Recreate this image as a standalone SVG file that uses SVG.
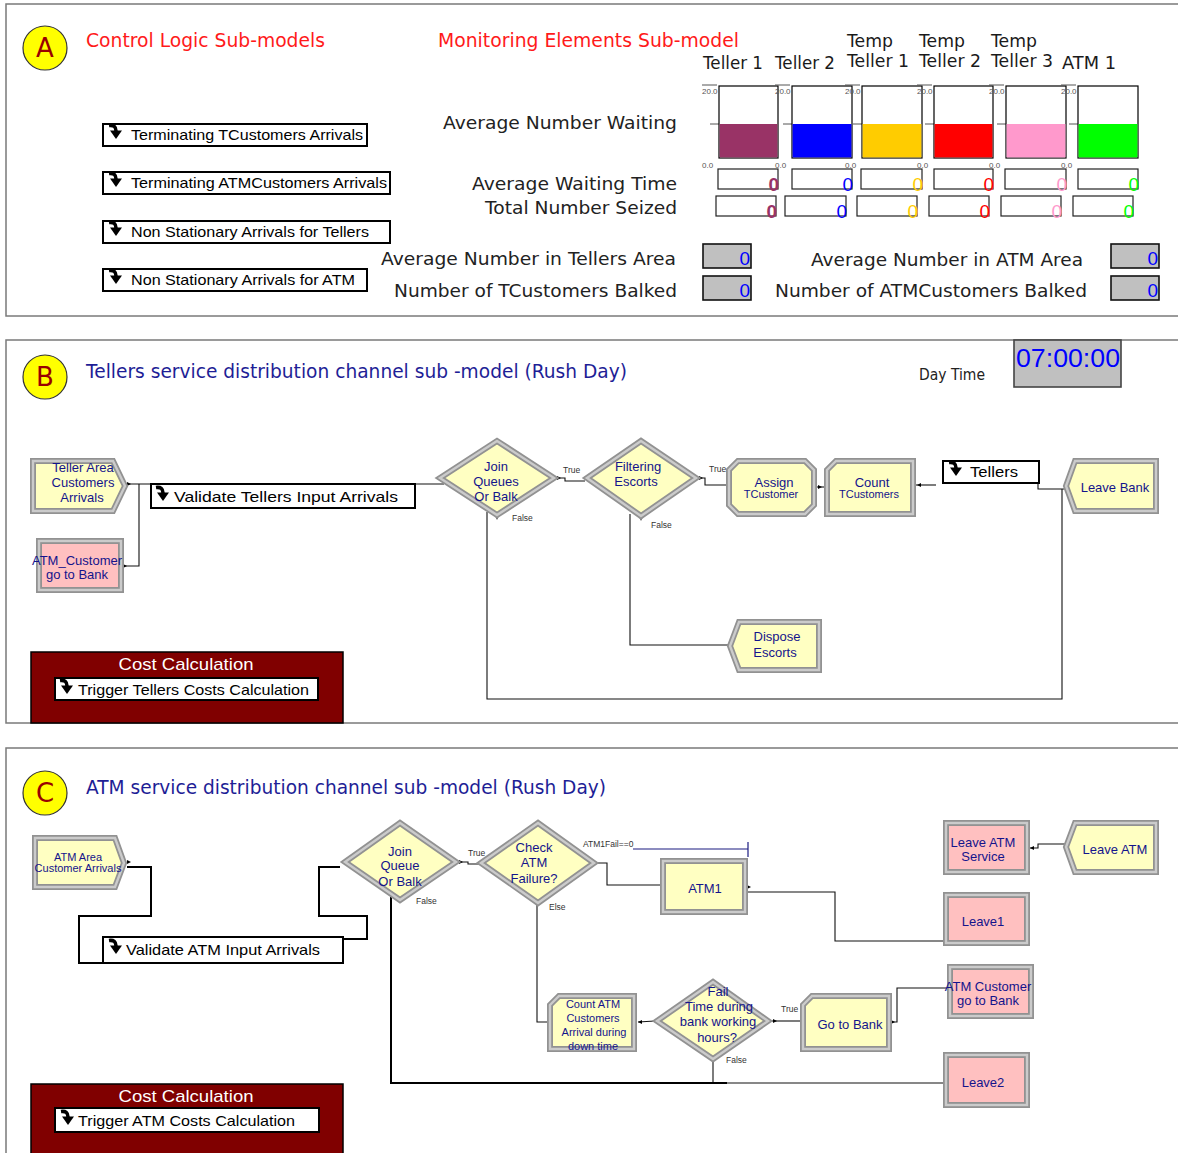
<svg xmlns="http://www.w3.org/2000/svg" xmlns:xlink="http://www.w3.org/1999/xlink" width="1178" height="1153" viewBox="0 0 1178 1153">
  <style>
    .panel { fill: #ffffff; stroke: #7a7a7a; stroke-width: 1.5; }
    .badge { fill: #ffff00; stroke: #333333; stroke-width: 1.2; }
    .badge-t { font-family: "DejaVu Sans", Verdana, sans-serif; font-size: 26px; fill: #990000; text-anchor: middle; }
    .h-red { font-family: "DejaVu Sans", Verdana, sans-serif; font-size: 19px; fill: #ff1a1a; }
    .h-navy { font-family: "DejaVu Sans", Verdana, sans-serif; font-size: 19px; fill: #1e1e96; }
    .lbl { font-family: "DejaVu Sans", Verdana, sans-serif; font-size: 18px; fill: #222222; text-anchor: end; }
    .col { font-family: "DejaVu Sans", Verdana, sans-serif; font-size: 18px; fill: #1a1a1a; }
    .axis { font-family: "Liberation Sans", Arial, sans-serif; font-size: 8px; fill: #555555; }
    .tick { stroke: #555555; stroke-width: 1; }
    .plot { fill: #ffffff; stroke: #000000; stroke-width: 1.2; }
    .vbox { fill: #ffffff; stroke: #222222; stroke-width: 1.2; }
    .val { font-family: "Liberation Sans", Arial, sans-serif; font-size: 19px; text-anchor: end; }
    .gbox { fill: #c0c0c0; stroke: #111111; stroke-width: 1.6; }
    .sub { fill: #ffffff; stroke: #000000; stroke-width: 2; }
    .sub-t { font-family: "Liberation Sans", Arial, sans-serif; font-size: 15px; fill: #000000; }
    .fr { stroke: #929292; stroke-width: 6; stroke-linejoin: miter; }
    .hl { fill: none; stroke: #cbcbcb; stroke-width: 2.4; stroke-linejoin: miter; }
    .yel { fill: #ffffc2; }
    .pnk { fill: #ffc0c0; }
    .nt { font-family: "Liberation Sans", Arial, sans-serif; font-size: 13px; fill: #14148c; text-anchor: middle; }
    .ns { font-family: "Liberation Sans", Arial, sans-serif; font-size: 11px; fill: #14148c; text-anchor: middle; }
    .conn { fill: none; stroke: #111111; stroke-width: 1.1; }
    .conn-b { fill: none; stroke: #000000; stroke-width: 2; }
    .tiny { font-family: "Liberation Sans", Arial, sans-serif; font-size: 8.5px; fill: #333333; }
    .cost { fill: #800000; stroke: #000000; stroke-width: 1.5; }
    .cost-t { font-family: "Liberation Sans", Arial, sans-serif; font-size: 17px; fill: #ffffff; text-anchor: middle; }
    .exit { fill: #000000; }
  </style>
  <defs>
    <!-- submodel icon: bent downward arrow -->
    <g id="sm-icon">
      <path d="M-6,-6.5 Q1,-7.5 1,-1" fill="none" stroke="#000" stroke-width="3.6"/>
      <polygon points="-5,-1.5 7,-1.5 1,7" fill="#000"/>
    </g>
  </defs>

  <!-- ===================== Panel A ===================== -->
  <g id="panel-a">
    <rect class="panel" x="6" y="4" width="1200" height="312"/>
    <circle class="badge" cx="45" cy="48" r="22"/>
    <text class="badge-t" x="45" y="57">A</text>
    <text class="h-red" x="86" y="47" textLength="239" lengthAdjust="spacingAndGlyphs">Control Logic Sub-models</text>
    <text class="h-red" x="438" y="47" textLength="301" lengthAdjust="spacingAndGlyphs">Monitoring Elements Sub-model</text>
  </g>

  <g id="sm-terminating-tcustomers">
    <rect class="sub" x="103" y="124" width="264" height="22"/>
    <use xlink:href="#sm-icon" href="#sm-icon" x="115" y="132"/>
    <text class="sub-t" x="131" y="140" textLength="232" lengthAdjust="spacingAndGlyphs">Terminating TCustomers Arrivals</text>
  </g>
  <g id="sm-terminating-atmcustomers">
    <rect class="sub" x="103" y="172" width="287" height="22"/>
    <use xlink:href="#sm-icon" href="#sm-icon" x="115" y="180"/>
    <text class="sub-t" x="131" y="188" textLength="256" lengthAdjust="spacingAndGlyphs">Terminating ATMCustomers Arrivals</text>
  </g>
  <g id="sm-nonstat-tellers">
    <rect class="sub" x="103" y="221" width="287" height="22"/>
    <use xlink:href="#sm-icon" href="#sm-icon" x="115" y="229"/>
    <text class="sub-t" x="131" y="237" textLength="238" lengthAdjust="spacingAndGlyphs">Non Stationary Arrivals for Tellers</text>
  </g>
  <g id="sm-nonstat-atm">
    <rect class="sub" x="103" y="269" width="264" height="22"/>
    <use xlink:href="#sm-icon" href="#sm-icon" x="115" y="277"/>
    <text class="sub-t" x="131" y="285" textLength="224" lengthAdjust="spacingAndGlyphs">Non Stationary Arrivals for ATM</text>
  </g>

  <!-- monitoring labels -->
  <g id="monitor-labels">
    <text class="lbl" x="677" y="129" textLength="234" lengthAdjust="spacingAndGlyphs">Average Number Waiting</text>
    <text class="lbl" x="677" y="190" textLength="205" lengthAdjust="spacingAndGlyphs">Average Waiting Time</text>
    <text class="lbl" x="677" y="214" textLength="192" lengthAdjust="spacingAndGlyphs">Total Number Seized</text>
    <text class="lbl" x="676" y="265" textLength="295" lengthAdjust="spacingAndGlyphs">Average Number in Tellers Area</text>
    <text class="lbl" x="677" y="297" textLength="283" lengthAdjust="spacingAndGlyphs">Number of TCustomers Balked</text>
    <text class="lbl" x="1083" y="266" textLength="272" lengthAdjust="spacingAndGlyphs">Average Number in ATM Area</text>
    <text class="lbl" x="1087" y="297" textLength="312" lengthAdjust="spacingAndGlyphs">Number of ATMCustomers Balked</text>
  </g>

  <!-- column headers -->
  <g id="monitor-headers">
    <text class="col" x="703" y="69" textLength="60" lengthAdjust="spacingAndGlyphs">Teller 1</text>
    <text class="col" x="775" y="69" textLength="60" lengthAdjust="spacingAndGlyphs">Teller 2</text>
    <text class="col" x="847" y="47" textLength="46" lengthAdjust="spacingAndGlyphs">Temp</text>
    <text class="col" x="847" y="67" textLength="62" lengthAdjust="spacingAndGlyphs">Teller 1</text>
    <text class="col" x="919" y="47" textLength="46" lengthAdjust="spacingAndGlyphs">Temp</text>
    <text class="col" x="919" y="67" textLength="62" lengthAdjust="spacingAndGlyphs">Teller 2</text>
    <text class="col" x="991" y="47" textLength="46" lengthAdjust="spacingAndGlyphs">Temp</text>
    <text class="col" x="991" y="67" textLength="62" lengthAdjust="spacingAndGlyphs">Teller 3</text>
    <text class="col" x="1062" y="69" textLength="54" lengthAdjust="spacingAndGlyphs">ATM 1</text>
  </g>

  <!-- level plots -->
  <g id="plot-teller1">
    <line class="tick" x1="702" y1="85" x2="717" y2="85"/>
    <text class="axis" x="702" y="94">20.0</text>
    <text class="axis" x="702" y="168">0.0</text>
    <line class="tick" x1="710" y1="124" x2="719" y2="124"/>
    <rect class="plot" x="719" y="86" width="59" height="72"/>
    <rect x="719.6" y="124" width="57.8" height="33.4" fill="#993366"/>
  </g>
  <g id="plot-teller2">
    <line class="tick" x1="775" y1="85" x2="790" y2="85"/>
    <text class="axis" x="775" y="94">20.0</text>
    <text class="axis" x="775" y="168">0.0</text>
    <line class="tick" x1="783" y1="124" x2="792" y2="124"/>
    <rect class="plot" x="792" y="86" width="60" height="72"/>
    <rect x="792.6" y="124" width="58.8" height="33.4" fill="#0000ff"/>
  </g>
  <g id="plot-temp1">
    <line class="tick" x1="845" y1="85" x2="860" y2="85"/>
    <text class="axis" x="845" y="94">20.0</text>
    <text class="axis" x="845" y="168">0.0</text>
    <line class="tick" x1="853" y1="124" x2="862" y2="124"/>
    <rect class="plot" x="862" y="86" width="60" height="72"/>
    <rect x="862.6" y="124" width="58.8" height="33.4" fill="#ffcc00"/>
  </g>
  <g id="plot-temp2">
    <line class="tick" x1="917" y1="85" x2="932" y2="85"/>
    <text class="axis" x="917" y="94">20.0</text>
    <text class="axis" x="917" y="168">0.0</text>
    <line class="tick" x1="925" y1="124" x2="934" y2="124"/>
    <rect class="plot" x="934" y="86" width="59" height="72"/>
    <rect x="934.6" y="124" width="57.8" height="33.4" fill="#ff0000"/>
  </g>
  <g id="plot-temp3">
    <line class="tick" x1="989" y1="85" x2="1004" y2="85"/>
    <text class="axis" x="989" y="94">20.0</text>
    <text class="axis" x="989" y="168">0.0</text>
    <line class="tick" x1="997" y1="124" x2="1006" y2="124"/>
    <rect class="plot" x="1006" y="86" width="60" height="72"/>
    <rect x="1006.6" y="124" width="58.8" height="33.4" fill="#ff99cc"/>
  </g>
  <g id="plot-atm1">
    <line class="tick" x1="1061" y1="85" x2="1076" y2="85"/>
    <text class="axis" x="1061" y="94">20.0</text>
    <text class="axis" x="1061" y="168">0.0</text>
    <line class="tick" x1="1069" y1="124" x2="1078" y2="124"/>
    <rect class="plot" x="1078" y="86" width="60" height="72"/>
    <rect x="1078.6" y="124" width="58.8" height="33.4" fill="#00ff00"/>
  </g>

  <!-- waiting time and seized values -->
  <g id="monitor-values">
    <rect class="vbox" x="718" y="169" width="60" height="20"/>
    <rect class="vbox" x="792" y="169" width="60" height="20"/>
    <rect class="vbox" x="861" y="169" width="61" height="20"/>
    <rect class="vbox" x="934" y="169" width="59" height="20"/>
    <rect class="vbox" x="1005" y="169" width="61" height="20"/>
    <rect class="vbox" x="1078" y="169" width="60" height="20"/>
    <text class="val" x="779" y="191" fill="#993366" font-weight="bold">0</text>
    <text class="val" x="853" y="191" fill="#0000ff">0</text>
    <text class="val" x="923" y="191" fill="#ffcc00">0</text>
    <text class="val" x="994" y="191" fill="#ff0000">0</text>
    <text class="val" x="1067" y="191" fill="#ff99cc">0</text>
    <text class="val" x="1139" y="191" fill="#00ff00">0</text>

    <rect class="vbox" x="716" y="196" width="60" height="20"/>
    <rect class="vbox" x="785" y="196" width="61" height="20"/>
    <rect class="vbox" x="857" y="196" width="60" height="20"/>
    <rect class="vbox" x="929" y="196" width="60" height="20"/>
    <rect class="vbox" x="1001" y="196" width="60" height="20"/>
    <rect class="vbox" x="1073" y="196" width="60" height="20"/>
    <text class="val" x="777" y="218" fill="#993366" font-weight="bold">0</text>
    <text class="val" x="847" y="218" fill="#0000ff">0</text>
    <text class="val" x="918" y="218" fill="#ffcc00">0</text>
    <text class="val" x="990" y="218" fill="#ff0000">0</text>
    <text class="val" x="1062" y="218" fill="#ff99cc">0</text>
    <text class="val" x="1134" y="218" fill="#00ff00">0</text>

    <rect class="gbox" x="703" y="244" width="48" height="24"/>
    <rect class="gbox" x="703" y="276" width="48" height="24"/>
    <rect class="gbox" x="1111" y="244" width="48" height="24"/>
    <rect class="gbox" x="1111" y="276" width="48" height="24"/>
    <text class="val" x="750" y="265" fill="#0000ff">0</text>
    <text class="val" x="750" y="297" fill="#0000ff">0</text>
    <text class="val" x="1158" y="265" fill="#0000ff">0</text>
    <text class="val" x="1158" y="297" fill="#0000ff">0</text>
  </g>

  <!-- ===================== Panel B ===================== -->
  <g id="panel-b">
    <rect class="panel" x="6" y="340" width="1200" height="383"/>
    <circle class="badge" cx="45" cy="377" r="22"/>
    <text class="badge-t" x="45" y="386">B</text>
    <text class="h-navy" x="86" y="378" textLength="541" lengthAdjust="spacingAndGlyphs">Tellers service distribution channel sub -model (Rush Day)</text>
    <text x="919" y="380" font-family="'DejaVu Sans', Verdana, sans-serif" font-size="15" fill="#222" textLength="66" lengthAdjust="spacingAndGlyphs">Day Time</text>
  </g>
  <g id="clock">
    <rect x="1014" y="340" width="107" height="47" fill="#c0c0c0" stroke="#444" stroke-width="1.6"/>
    <text x="1068" y="367" font-family="'Liberation Sans', Arial, sans-serif" font-size="26" fill="#0000ff" text-anchor="middle" textLength="104" lengthAdjust="spacingAndGlyphs">07:00:00</text>
  </g>

  <!-- connectors (panel B) -->
  <g id="connectors-b">
    <polyline class="conn" points="128,484 444,484"/>
    <polyline class="conn" points="124,566 139,566 139,484"/>
    <polyline class="conn" points="558,478 565,478 565,481 585,481"/>
    <polyline class="conn" points="700,478 705,478 705,485 727,485"/>
    <polyline class="conn" points="817,487 825,487"/>
    <polyline class="conn" points="916,485 936,485"/>
    <polyline class="conn" points="1038,483 1038,489 1066,489"/>
    <polyline class="conn" points="487,512 487,699 1062,699 1062,489"/>
    <polyline class="conn" points="630,514 630,645 730,645"/>
    <polygon class="exit" points="127,482 131,484 127,486"/>
    <polygon class="exit" points="123,564 127,566 123,568"/>
    <polygon class="exit" points="557,476 561,478 557,480"/>
    <polygon class="exit" points="699,476 703,478 699,480"/>
    <polygon class="exit" points="818,485 822,487 818,489"/>
    <polygon class="exit" points="921,483 917,485 921,487"/>
    <polygon points="495,516 499,516 497,520" fill="#555"/>
    <polygon points="639,517 643,517 641,521" fill="#555"/>
    <text class="tiny" x="563" y="473">True</text>
    <text class="tiny" x="709" y="472">True</text>
    <text class="tiny" x="512" y="521">False</text>
    <text class="tiny" x="651" y="528">False</text>
  </g>

  <g id="n-teller-arrivals">
    <path class="fr yel" d="M33,461 H113 L125,486 L113,511 H33 Z"/>
    <path class="hl" d="M33,461 H113 L125,486 L113,511 H33 Z"/>
    <text class="nt" x="83" y="472">Teller Area</text>
    <text class="nt" x="83" y="487">Customers</text>
    <text class="nt" x="82" y="502">Arrivals</text>
  </g>
  <g id="n-atm-customer-go-bank-b">
    <rect class="fr pnk" x="39" y="541" width="82" height="49"/>
    <rect class="hl" x="39" y="541" width="82" height="49"/>
    <text class="nt" x="77" y="565">ATM_Customer</text>
    <text class="nt" x="77" y="579">go to Bank</text>
  </g>
  <g id="sm-validate-tellers">
    <rect class="sub" x="151" y="484" width="264" height="24"/>
    <use xlink:href="#sm-icon" href="#sm-icon" x="162" y="494"/>
    <text class="sub-t" x="174" y="502" font-size="17" textLength="224" lengthAdjust="spacingAndGlyphs">Validate Tellers Input Arrivals</text>
  </g>
  <g id="n-join-queues">
    <path class="fr yel" d="M440,478 L497,441 L554,478 L497,515 Z"/>
    <path class="hl" d="M440,478 L497,441 L554,478 L497,515 Z"/>
    <text class="nt" x="496" y="471">Join</text>
    <text class="nt" x="496" y="486">Queues</text>
    <text class="nt" x="496" y="501">Or Balk</text>
  </g>
  <g id="n-filtering">
    <path class="fr yel" d="M587,478 L641,441 L696,478 L641,516 Z"/>
    <path class="hl" d="M587,478 L641,441 L696,478 L641,516 Z"/>
    <text class="nt" x="638" y="471">Filtering</text>
    <text class="nt" x="636" y="486">Escorts</text>
  </g>
  <g id="n-assign">
    <path class="fr yel" d="M738,461 H805 L814,470 V505 L805,514 H738 L729,505 V470 Z"/>
    <path class="hl" d="M738,461 H805 L814,470 V505 L805,514 H738 L729,505 V470 Z"/>
    <text class="nt" x="774" y="487">Assign</text>
    <text class="ns" x="771" y="498" font-size="10.5">TCustomer</text>
  </g>
  <g id="n-count-tcustomers">
    <path class="fr yel" d="M836,461 H913 V514 H827 V470 Z"/>
    <path class="hl" d="M836,461 H913 V514 H827 V470 Z"/>
    <text class="nt" x="872" y="487">Count</text>
    <text class="ns" x="869" y="498" font-size="10.5">TCustomers</text>
  </g>
  <g id="sm-tellers">
    <rect class="sub" x="943" y="461" width="96" height="22"/>
    <use xlink:href="#sm-icon" href="#sm-icon" x="955" y="469"/>
    <text class="sub-t" x="970" y="477" font-size="16" textLength="48" lengthAdjust="spacingAndGlyphs">Tellers</text>
  </g>
  <g id="n-leave-bank">
    <path class="fr yel" d="M1075,461 H1156 V511 H1075 L1066,486 Z"/>
    <path class="hl" d="M1075,461 H1156 V511 H1075 L1066,486 Z"/>
    <text class="nt" x="1115" y="492">Leave Bank</text>
  </g>
  <g id="n-dispose-escorts">
    <path class="fr yel" d="M739,622 H819 V670 H739 L730,646 Z"/>
    <path class="hl" d="M739,622 H819 V670 H739 L730,646 Z"/>
    <text class="nt" x="777" y="641">Dispose</text>
    <text class="nt" x="775" y="657">Escorts</text>
  </g>
  <g id="cost-b">
    <rect class="cost" x="31" y="652" width="312" height="71"/>
    <text class="cost-t" x="186" y="670" textLength="135" lengthAdjust="spacingAndGlyphs">Cost Calculation</text>
    <rect class="sub" x="55" y="678" width="263" height="22"/>
    <use xlink:href="#sm-icon" href="#sm-icon" x="66" y="687"/>
    <text class="sub-t" x="78" y="695" textLength="231" lengthAdjust="spacingAndGlyphs">Trigger Tellers Costs Calculation</text>
  </g>

  <!-- ===================== Panel C ===================== -->
  <g id="panel-c">
    <rect class="panel" x="6" y="748" width="1200" height="420"/>
    <circle class="badge" cx="45" cy="793" r="22"/>
    <text class="badge-t" x="45" y="802">C</text>
    <text class="h-navy" x="86" y="794" textLength="520" lengthAdjust="spacingAndGlyphs">ATM service distribution channel sub -model (Rush Day)</text>
  </g>

  <!-- connectors (panel C) -->
  <g id="connectors-c">
    <polyline class="conn-b" points="127,867 151,867 151,916 79,916 79,963 103,963"/>
    <polyline class="conn-b" points="343,939 367,939 367,916 319,916 319,867 340,867"/>
    <polyline class="conn" points="460,862 468,862 468,864 479,864"/>
    <polyline class="conn" points="598,863 607,863 607,885 660,885"/>
    <polyline points="633,849 748,849" fill="none" stroke="#1a1a80" stroke-width="1.2"/>
    <line x1="748" y1="842" x2="748" y2="857" stroke="#1a1a80" stroke-width="1.2"/>
    <polyline class="conn" points="537,903 537,1022 549,1022"/>
    <polyline class="conn" points="748,892 835,892 835,941 946,941"/>
    <polyline class="conn" points="1065,844 1038,844 1038,848 1030,848"/>
    <polyline class="conn" points="655,1021 638,1022"/>
    <polyline class="conn" points="772,1021 803,1021"/>
    <polyline class="conn" points="892,1022 897,1022 897,988 948,988"/>
    <polyline class="conn" points="713,1060 713,1083"/>
    <polyline class="conn-b" points="391,897 391,1083 727,1083"/>
    <polyline class="conn" points="727,1083 946,1083"/>
    <polygon class="exit" points="127,860 131,862 127,864"/>
    <polygon class="exit" points="459,860 463,862 459,864"/>
    <polygon class="exit" points="747,885 751,887 747,889"/>
    <polygon class="exit" points="1034,846 1030,848 1034,850"/>
    <polygon class="exit" points="642,1020 638,1022 642,1024"/>
    <polygon class="exit" points="773,1019 777,1021 773,1023"/>
    <polygon class="exit" points="891,1020 895,1022 891,1024"/>
    <polygon points="398,898 402,898 400,902" fill="#555"/>
    <polygon points="536,902 540,902 538,906" fill="#555"/>
    <polygon points="711,1059 715,1059 713,1063" fill="#555"/>
    <text class="tiny" x="468" y="856">True</text>
    <text class="tiny" x="416" y="904">False</text>
    <text class="tiny" x="549" y="910">Else</text>
    <text class="tiny" x="583" y="847" font-size="7.5">ATM1Fail==0</text>
    <text class="tiny" x="781" y="1012">True</text>
    <text class="tiny" x="726" y="1063">False</text>
  </g>

  <g id="n-atm-arrivals">
    <path class="fr yel" d="M35,838 H115 L124,863 L115,887 H35 Z"/>
    <path class="hl" d="M35,838 H115 L124,863 L115,887 H35 Z"/>
    <text class="ns" x="78" y="861">ATM Area</text>
    <text class="ns" x="78" y="872">Customer Arrivals</text>
  </g>
  <g id="sm-validate-atm">
    <rect class="sub" x="103" y="937" width="240" height="26"/>
    <use xlink:href="#sm-icon" href="#sm-icon" x="115" y="947"/>
    <text class="sub-t" x="126" y="955" font-size="17" textLength="194" lengthAdjust="spacingAndGlyphs">Validate ATM Input Arrivals</text>
  </g>
  <g id="n-join-queue-c">
    <path class="fr yel" d="M345,862 L400,823 L456,862 L400,900 Z"/>
    <path class="hl" d="M345,862 L400,823 L456,862 L400,900 Z"/>
    <text class="nt" x="400" y="856">Join</text>
    <text class="nt" x="400" y="870">Queue</text>
    <text class="nt" x="400" y="886">Or Balk</text>
  </g>
  <g id="n-check-atm">
    <path class="fr yel" d="M481,863 L538,823 L594,863 L538,903 Z"/>
    <path class="hl" d="M481,863 L538,823 L594,863 L538,903 Z"/>
    <text class="nt" x="534" y="852">Check</text>
    <text class="nt" x="534" y="867">ATM</text>
    <text class="nt" x="534" y="883">Failure?</text>
  </g>
  <g id="n-atm1">
    <rect class="fr yel" x="663" y="861" width="82" height="51"/>
    <rect class="hl" x="663" y="861" width="82" height="51"/>
    <text class="nt" x="705" y="893">ATM1</text>
  </g>
  <g id="n-leave-atm-service">
    <rect class="fr pnk" x="946" y="823" width="81" height="49"/>
    <rect class="hl" x="946" y="823" width="81" height="49"/>
    <text class="nt" x="983" y="847">Leave ATM</text>
    <text class="nt" x="983" y="861">Service</text>
  </g>
  <g id="n-leave-atm">
    <path class="fr yel" d="M1075,823 H1156 V872 H1075 L1066,847 Z"/>
    <path class="hl" d="M1075,823 H1156 V872 H1075 L1066,847 Z"/>
    <text class="nt" x="1115" y="854">Leave ATM</text>
  </g>
  <g id="n-leave1">
    <rect class="fr pnk" x="946" y="895" width="81" height="48"/>
    <rect class="hl" x="946" y="895" width="81" height="48"/>
    <text class="nt" x="983" y="926">Leave1</text>
  </g>
  <g id="n-count-atm">
    <path class="fr yel" d="M559,996 H634 V1049 H550 V1005 Z"/>
    <path class="hl" d="M559,996 H634 V1049 H550 V1005 Z"/>
    <text class="ns" x="593" y="1008" font-size="12">Count ATM</text>
    <text class="ns" x="593" y="1022" font-size="12">Customers</text>
    <text class="ns" x="594" y="1036" font-size="12">Arrival during</text>
    <text class="ns" x="593" y="1050" font-size="12">down time</text>
  </g>
  <g id="n-fail-time">
    <path class="fr yel" d="M657,1021 L713,982 L768,1021 L713,1059 Z"/>
    <path class="hl" d="M657,1021 L713,982 L768,1021 L713,1059 Z"/>
    <text class="nt" x="718" y="996">Fail</text>
    <text class="nt" x="719" y="1011">Time during</text>
    <text class="nt" x="718" y="1026">bank working</text>
    <text class="nt" x="717" y="1042">hours?</text>
  </g>
  <g id="n-go-to-bank">
    <path class="fr yel" d="M812,996 H889 V1049 H803 V1005 Z"/>
    <path class="hl" d="M812,996 H889 V1049 H803 V1005 Z"/>
    <text class="nt" x="850" y="1029">Go to Bank</text>
  </g>
  <g id="n-atm-customer-go-bank-c">
    <rect class="fr pnk" x="950" y="967" width="81" height="49"/>
    <rect class="hl" x="950" y="967" width="81" height="49"/>
    <text class="nt" x="988" y="991">ATM Customer</text>
    <text class="nt" x="988" y="1005">go to Bank</text>
  </g>
  <g id="n-leave2">
    <rect class="fr pnk" x="946" y="1055" width="81" height="50"/>
    <rect class="hl" x="946" y="1055" width="81" height="50"/>
    <text class="nt" x="983" y="1087">Leave2</text>
  </g>
  <g id="cost-c">
    <rect class="cost" x="31" y="1084" width="312" height="80"/>
    <text class="cost-t" x="186" y="1102" textLength="135" lengthAdjust="spacingAndGlyphs">Cost Calculation</text>
    <rect class="sub" x="55" y="1108" width="264" height="24"/>
    <use xlink:href="#sm-icon" href="#sm-icon" x="67" y="1118"/>
    <text class="sub-t" x="78" y="1126" textLength="217" lengthAdjust="spacingAndGlyphs">Trigger ATM Costs Calculation</text>
  </g>
</svg>
